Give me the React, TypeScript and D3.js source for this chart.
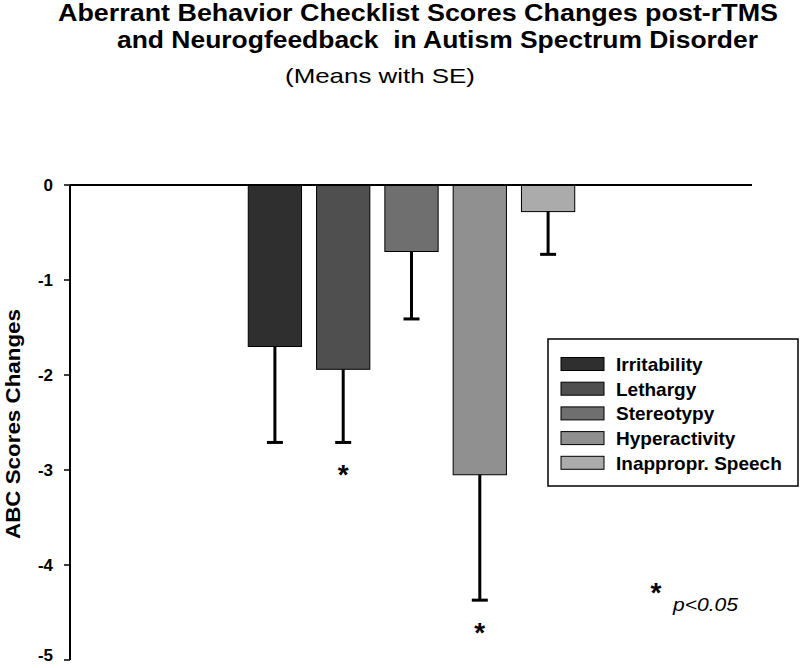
import React from "react";
import * as d3 from "d3";

const categories = ["Irritability", "Lethargy", "Stereotypy", "Hyperactivity", "Inappropr. Speech"];
const means = [-1.7, -1.94, -0.7, -3.05, -0.28];
const errors = [1.01, 0.77, 0.71, 1.32, 0.45];
const significant = [false, true, false, true, false];
const barColors = ["#2f2f2f", "#4f4f4f", "#6f6f6f", "#909090", "#ababab"];
const yTicks = [0, -1, -2, -3, -4, -5];

const W = 800;
const H = 668;
const margin = { top: 185, right: 48, bottom: 8, left: 70 };

const App = () => {
  const y = d3
    .scaleLinear()
    .domain([0, -5])
    .range([margin.top, H - margin.bottom]);

  // bars sit in the middle of the plot, not across its full width
  const x = d3
    .scaleBand<string>()
    .domain(categories)
    .range([240.75, 582.25])
    .paddingInner(0.22)
    .paddingOuter(0.11);

  const font = "Arial, 'Liberation Sans', sans-serif";
  const capW = 16;

  return (
    <svg
      width={W}
      height={H}
      style={{ position: "absolute", left: 0, top: 0, background: "#fff", fontFamily: font }}
    >
      {/* title */}
      <text x={58} y={21} fontSize={23} fontWeight="bold" textLength={720} lengthAdjust="spacingAndGlyphs">
        Aberrant Behavior Checklist Scores Changes post-rTMS
      </text>
      <text
        x={117}
        y={48}
        fontSize={23.5}
        fontWeight="bold"
        textLength={641}
        lengthAdjust="spacingAndGlyphs"
        style={{ whiteSpace: "pre" }}
      >
        and Neurogfeedback  in Autism Spectrum Disorder
      </text>
      <text x={285} y={83} fontSize={21} textLength={190} lengthAdjust="spacingAndGlyphs">
        (Means with SE)
      </text>

      {/* bars */}
      {categories.map((c, i) => (
        <rect
          key={c}
          x={x(c)}
          y={y(0)}
          width={x.bandwidth()}
          height={y(means[i]) - y(0)}
          fill={barColors[i]}
          stroke="#000"
          strokeWidth={1}
        />
      ))}

      {/* error bars (one-sided) */}
      {categories.map((c, i) => {
        const cx = (x(c) ?? 0) + x.bandwidth() / 2;
        const lo = y(means[i] - errors[i]);
        return (
          <g key={c + "-err"} stroke="#000" strokeWidth={3}>
            <line x1={cx} x2={cx} y1={y(means[i])} y2={lo} />
            <line x1={cx - capW / 2} x2={cx + capW / 2} y1={lo} y2={lo} />
          </g>
        );
      })}

      {/* significance marks */}
      {categories.map((c, i) =>
        significant[i] ? (
          <text
            key={c + "-sig"}
            x={(x(c) ?? 0) + x.bandwidth() / 2}
            y={y(means[i] - errors[i]) + 42}
            fontSize={28}
            fontWeight="bold"
            textAnchor="middle"
          >
            *
          </text>
        ) : null
      )}

      {/* axes */}
      <line x1={margin.left} x2={W - margin.right} y1={y(0)} y2={y(0)} stroke="#000" strokeWidth={2} />
      <line x1={margin.left} x2={margin.left} y1={y(0)} y2={y(-5)} stroke="#000" strokeWidth={2} />
      {yTicks.map((t) => (
        <g key={t}>
          <line x1={margin.left - 6} x2={margin.left} y1={y(t)} y2={y(t)} stroke="#000" strokeWidth={1.5} />
          <text
            x={53}
            y={Math.min(y(t), H - 13)}
            dy="0.35em"
            fontSize={17}
            fontWeight="bold"
            textAnchor="end"
          >
            {t}
          </text>
        </g>
      ))}
      <text
        transform={`translate(20,424) rotate(-90)`}
        fontSize={21}
        fontWeight="bold"
        textAnchor="middle"
        textLength={230}
        lengthAdjust="spacingAndGlyphs"
      >
        ABC Scores Changes
      </text>

      {/* legend */}
      <rect x={548} y={339} width={250} height={147} fill="#fff" stroke="#000" strokeWidth={1.5} />
      {categories.map((c, i) => (
        <g key={c + "-leg"} transform={`translate(561,${357.5 + i * 24.7})`}>
          <rect width={43} height={13} fill={barColors[i]} stroke="#000" strokeWidth={1} />
          <text x={55} y={13.5} fontSize={19} fontWeight="bold">
            {c}
          </text>
        </g>
      ))}

      {/* p-value note */}
      <text x={656} y={602} fontSize={28} fontWeight="bold" textAnchor="middle">
        *
      </text>
      <text x={673} y={611} fontSize={18} fontStyle="italic" textLength={65} lengthAdjust="spacingAndGlyphs">
        p&lt;0.05
      </text>
    </svg>
  );
};

export default App;
